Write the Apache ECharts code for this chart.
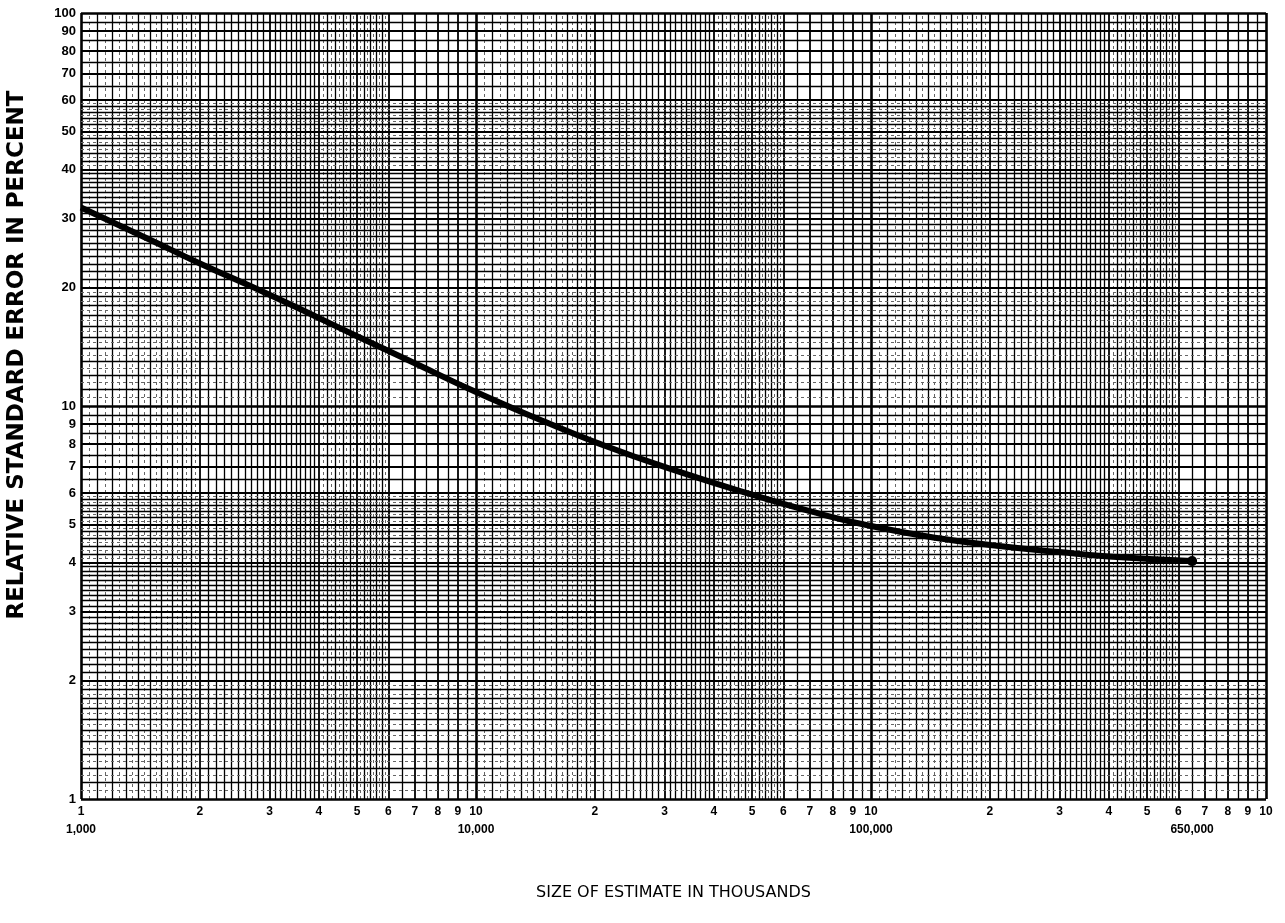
<!DOCTYPE html>
<html>
<head lang="en">
    <meta charset="UTF-8">
    <title>Relative standard error</title>
    <style>
        html, body { margin: 0; padding: 0; background: #fff; }
        #main { width: 1285px; height: 923px; }
    </style>
</head>
<body>
<div id="main"></div>
<script src="https://cdn.jsdelivr.net/npm/echarts@6/dist/echarts.min.js"></script>
<script>
    // size of estimate (in thousands) -> relative standard error (percent)
    var sizes = [1000, 1500, 2000, 3000, 4000, 5000, 7000, 10000, 15000, 20000, 30000, 50000, 70000, 100000, 150000, 200000, 300000, 400000, 650000];
    var rse = [32.0, 26.45, 23.05, 19.2, 16.75, 15.05, 12.85, 10.85, 9.1, 8.1, 7.0, 5.95, 5.4, 4.95, 4.6, 4.43, 4.25, 4.14, 4.03];

    // tick labels
    var xTickValues = [1000, 2000, 3000, 4000, 5000, 6000, 7000, 8000, 9000, 10000,
        20000, 30000, 40000, 50000, 60000, 70000, 80000, 90000, 100000,
        200000, 300000, 400000, 500000, 600000, 700000, 800000, 900000, 1000000];
    var xTickText = ['1', '2', '3', '4', '5', '6', '7', '8', '9', '10',
        '2', '3', '4', '5', '6', '7', '8', '9', '10',
        '2', '3', '4', '5', '6', '7', '8', '9', '10'];
    var xSubValues = [1000, 10000, 100000, 650000];
    var xSubText = ['1,000', '10,000', '100,000', '650,000'];

    var yTickValues = [1, 2, 3, 4, 5, 6, 7, 8, 9, 10, 20, 30, 40, 50, 60, 70, 80, 90, 100];
    var yTickText = ['1', '2', '3', '4', '5', '6', '7', '8', '9', '10', '20', '30', '40', '50', '60', '70', '80', '90', '100'];

    function labelFont(size) {
        return {color: '#000', fontWeight: 'bold', fontSize: size, fontFamily: 'Liberation Sans'};
    }

    function findIdx(arr, v) {
        for (var i = 0; i < arr.length; i++) {
            if (Math.abs(arr[i] - v) < 1e-6 * v) return i;
        }
        return -1;
    }

    // log paper rulings, mantissa counted in hundredths
    function rulings(lo, hi, axisKey) {
        var out = [];
        for (var d = lo; d < hi; d *= 10) {
            for (var k = 100; k < 1000; k += 5) {
                var use = (k < 200) || (k < 600 && k % 10 == 0) || (k % 50 == 0);
                if (!use) continue;
                var dashed = (k < 200 && k % 10 != 0) || (k >= 400 && k < 600 && k % 20 != 0);
                var w = k == 100 ? 2.6 : (k % 100 == 0 ? 1.8 : 1.3);
                out.push(makeLine(axisKey, d * k / 100, w, dashed));
            }
        }
        out.push(makeLine(axisKey, hi, 2.6, false));
        return out;
    }

    function makeLine(axisKey, v, w, dashed) {
        var item = {lineStyle: dashed ? {color: '#666', width: 1, type: [3, 3]} : {color: '#000', width: w, type: 'solid'}};
        item[axisKey] = v;
        var vals = axisKey == 'xAxis' ? xTickValues : yTickValues;
        var texts = axisKey == 'xAxis' ? xTickText : yTickText;
        var i = findIdx(vals, v);
        if (i >= 0) {
            var txt = texts[i];
            var label = {show: true, position: 'start', distance: axisKey == 'xAxis' ? 4 : 5, lineHeight: 18};
            if (axisKey == 'xAxis') {
                var j = findIdx(xSubValues, v);
                if (j >= 0) txt = txt + '\n' + xSubText[j];
            }
            label.formatter = txt;
            item.label = echarts.util.extend(label, labelFont(axisKey == 'xAxis' ? 12 : 13));
        }
        return item;
    }

    var lines = rulings(1000, 1000000, 'xAxis').concat(rulings(1, 100, 'yAxis'));
    // second row labels that do not sit on a labelled ruling
    for (var j = 0; j < xSubValues.length; j++) {
        if (findIdx(xTickValues, xSubValues[j]) < 0) {
            lines.push({
                xAxis: xSubValues[j],
                lineStyle: {color: 'rgba(0,0,0,0)', width: 1},
                label: echarts.util.extend({show: true, position: 'start', distance: 4, lineHeight: 18,
                    formatter: ' \n' + xSubText[j]}, labelFont(12))
            });
        }
    }

    var curve = [];
    for (var i = 0; i < sizes.length; i++) {
        var pt = {value: [sizes[i], rse[i]]};
        if (i == sizes.length - 1) {
            pt.symbol = 'circle';
            pt.symbolSize = 10;
        }
        curve.push(pt);
    }

    var myChart = echarts.init(document.getElementById('main'));
    var option = {
        animation: false,
        backgroundColor: '#fff',
        grid: {left: 81, right: 19, top: 13, bottom: 124, containLabel: false, outerBoundsMode: 'none'},
        xAxis: {
            type: 'log', logBase: 10, min: 1000, max: 1000000,
            name: 'SIZE OF ESTIMATE IN THOUSANDS', nameLocation: 'middle', nameGap: 86,
            nameTextStyle: {color: '#000', fontSize: 16, fontFamily: 'DejaVu Sans'},
            axisLine: {show: false}, axisTick: {show: false}, axisLabel: {show: false}, splitLine: {show: false}
        },
        yAxis: {
            type: 'log', logBase: 10, min: 1, max: 100,
            name: 'RELATIVE STANDARD ERROR IN PERCENT', nameLocation: 'middle', nameGap: 52, nameRotate: 90,
            nameTextStyle: {color: '#000', fontSize: 23, fontWeight: 'bold', fontFamily: 'DejaVu Sans', padding: [0, 0, 0, 102]},
            axisLine: {show: false}, axisTick: {show: false}, axisLabel: {show: false}, splitLine: {show: false}
        },
        series: [
            {
                name: 'paper',
                type: 'line',
                data: [],
                silent: true,
                z: 1,
                markLine: {
                    silent: true,
                    symbol: ['none', 'none'],
                    animation: false,
                    z: 1,
                    label: {show: false},
                    emphasis: {disabled: true},
                    data: lines
                }
            },
            {
                name: 'rse',
                type: 'line',
                data: curve,
                smooth: true,
                symbol: 'none',
                z: 10,
                lineStyle: {color: '#000', width: 6},
                itemStyle: {color: '#000'},
                label: {show: false}
            }
        ]
    };
    myChart.setOption(option);
</script>
</body>
</html>
